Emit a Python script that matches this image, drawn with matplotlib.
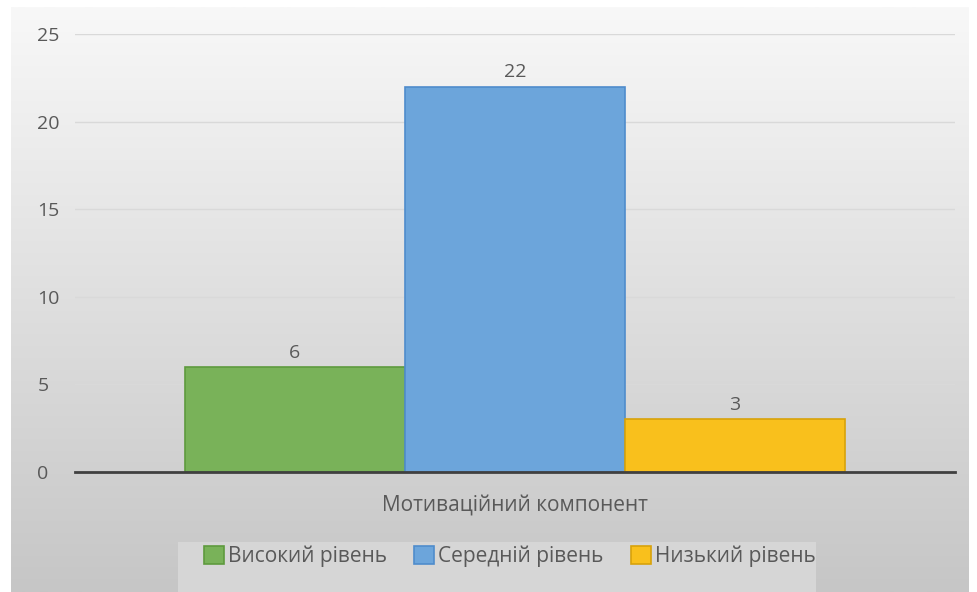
import matplotlib
matplotlib.use("Agg")
import matplotlib.pyplot as plt
import numpy as np
from matplotlib.patches import Rectangle

category = "Мотиваційний компонент"
series = ["Високий рівень", "Середній рівень", "Низький рівень"]
values = [6, 22, 3]
yticks = [0, 5, 10, 15, 20, 25]

fills = ["#79b259", "#6ca5db", "#f9c01c"]
edges = ["#5e9a3e", "#4f8ccc", "#d8a20a"]
txt = "#595959"
FS = 14

plt.rcParams['font.family'] = ['Open Sans', 'DejaVu Sans']

W, H = 977, 592
fig = plt.figure(figsize=(W / 100, H / 100), dpi=100)
fig.patch.set_facecolor("white")

# gradient background
bg = fig.add_axes([11 / W, 0, (969 - 11) / W, (H - 7) / H], zorder=-10)
grad = np.linspace(0, 1, 256).reshape(-1, 1)
c_top = np.array([0xf8, 0xf8, 0xf8]) / 255
c_bot = np.array([0xc6, 0xc6, 0xc6]) / 255
img = c_top[None, None, :] * (1 - grad[:, :, None]) + c_bot[None, None, :] * grad[:, :, None]
bg.imshow(img, aspect="auto", extent=[0, 1, 0, 1], origin="upper")
bg.set_axis_off()

# legend background box
fig.patches.append(Rectangle((178 / W, 0), (816 - 178) / W, (592 - 542) / H,
                             transform=fig.transFigure, facecolor="#d6d6d6",
                             edgecolor="none", zorder=-5))

ax_l, ax_r = 75, 955
ax_b, ax_t = 472, 34
ax = fig.add_axes([ax_l / W, (H - ax_b) / H, (ax_r - ax_l) / W, (ax_b - ax_t) / H])
ax.set_facecolor("none")

bw = 0.25
xs = [-bw, 0, bw]
for x, v, f, e, s in zip(xs, values, fills, edges, series):
    ax.bar(x, v, width=bw, color=f, edgecolor=e, linewidth=1.2, label=s, zorder=3)
    ax.text(x, v + 0.3, str(v), ha="center", va="bottom", fontsize=FS, color=txt)

ax.set_xlim(-0.5, 0.5)
ax.set_ylim(0, 25)
ax.set_yticks(yticks)
ax.set_yticklabels([str(t) for t in yticks], fontsize=FS, color=txt, ha="left")
ax.yaxis.grid(True, color="#d9d9d9", linewidth=1, zorder=0)
ax.set_axisbelow(True)
ax.tick_params(axis="y", length=0, pad=27)
ax.set_xticks([0])
ax.set_xticklabels([category], fontsize=15, color=txt)
ax.tick_params(axis="x", length=0, pad=16)
for sp in ["top", "right", "left"]:
    ax.spines[sp].set_visible(False)
ax.spines["bottom"].set_color("#404040")
ax.spines["bottom"].set_linewidth(2)
ax.spines["bottom"].set_zorder(4)

handles = [Rectangle((0, 0), 1, 1, facecolor=f, edgecolor=e, linewidth=1.2) for f, e in zip(fills, edges)]
fig.legend(handles, series, loc="center", bbox_to_anchor=(510 / W, (H - 556) / H),
           ncol=3, frameon=False, fontsize=15, labelcolor=txt,
           handlelength=0.95, handleheight=0.95, handletextpad=0.2, columnspacing=1.3)

fig.savefig("out.png", dpi=100)
